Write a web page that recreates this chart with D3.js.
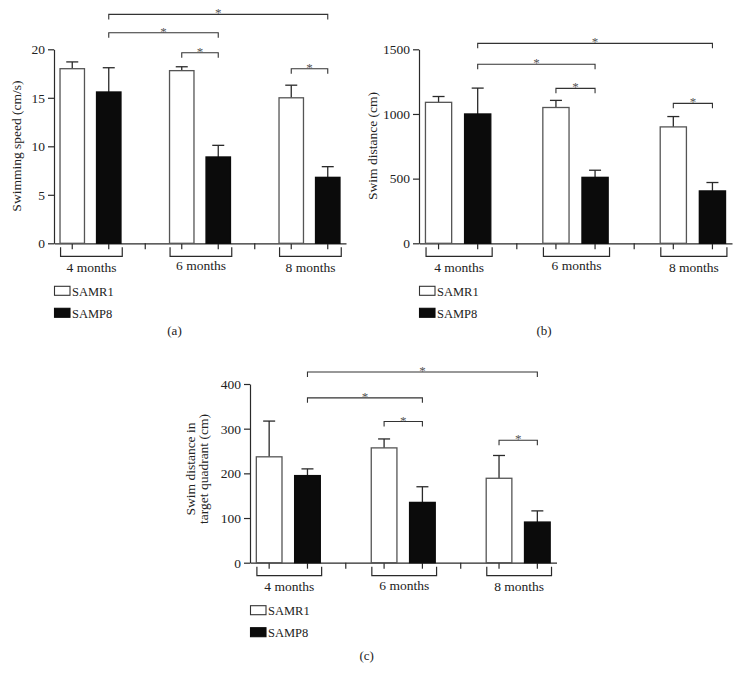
<!DOCTYPE html>
<html><head><meta charset="utf-8">
<script src="https://cdn.jsdelivr.net/npm/d3@7"></script>
<style>body{margin:0;background:#fff} svg{display:block}</style>
</head><body>
<svg id="chart" width="740" height="684"></svg>
<script>
// ---------- data ----------
const groups = ["4 months", "6 months", "8 months"];
const series = ["SAMR1", "SAMP8"];

// (a) Swimming speed (cm/s)
const speedSAMR1 = [18.0, 17.8, 15.0];
const speedSAMR1Err = [0.7, 0.4, 1.3];
const speedSAMP8 = [15.6, 8.9, 6.8];
const speedSAMP8Err = [2.5, 1.2, 1.1];
const speedTicks = [0, 5, 10, 15, 20];

// (b) Swim distance (cm)
const distSAMR1 = [1090, 1050, 900];
const distSAMR1Err = [45, 55, 80];
const distSAMP8 = [1000, 510, 405];
const distSAMP8Err = [200, 55, 65];
const distTicks = [0, 500, 1000, 1500];

// (c) Swim distance in target quadrant (cm)
const quadSAMR1 = [237, 257, 189];
const quadSAMR1Err = [80, 20, 51];
const quadSAMP8 = [195, 135, 91];
const quadSAMP8Err = [15, 35, 25];
const quadTicks = [0, 100, 200, 300, 400];

// significance brackets: from [group, series] to [group, series] at a level (data units)
const sigSpeed = [
  {from: [0, 1], to: [2, 1], level: 23.6},
  {from: [0, 1], to: [1, 1], level: 21.7},
  {from: [1, 0], to: [1, 1], level: 19.65},
  {from: [2, 0], to: [2, 1], level: 18.0}
];
const sigDist = [
  {from: [0, 1], to: [2, 1], level: 1546},
  {from: [0, 1], to: [1, 1], level: 1384},
  {from: [1, 0], to: [1, 1], level: 1198},
  {from: [2, 0], to: [2, 1], level: 1082}
];
const sigQuad = [
  {from: [0, 1], to: [2, 1], level: 427},
  {from: [0, 1], to: [1, 1], level: 369},
  {from: [1, 0], to: [1, 1], level: 316},
  {from: [2, 0], to: [2, 1], level: 274}
];

// ---------- drawing ----------
const FONT = "'Liberation Serif', 'Times New Roman', serif";
const INK = "#2a2a2a";
const svg = d3.select("#chart");

const slotKey = (gi, si) => groups[gi] + "|" + series[si];
const slots = [];
groups.forEach((g, gi) => {
  slots.push(slotKey(gi, 0), slotKey(gi, 1));
  if (gi < groups.length - 1) slots.push("gap" + gi);
});

function panel(o) {
  const g = svg.append("g");
  const x = d3.scaleBand().domain(slots).range([o.x0, o.x1])
    .paddingInner(0.33).paddingOuter(0.165);
  const y = d3.scaleLinear().domain([0, o.max]).range([o.yBot, o.yTop]);
  const cx = (gi, si) => x(slotKey(gi, si)) + x.bandwidth() / 2;
  const step = x.step();

  // y axis
  const ya = g.append("g").attr("transform", `translate(${o.x0},0)`)
    .call(d3.axisLeft(y).tickValues(o.ticks).tickSize(6).tickSizeOuter(0).tickPadding(3).tickFormat(d3.format("d")));
  ya.select(".domain").attr("stroke", INK).attr("stroke-width", 1.2);
  ya.selectAll(".tick line").attr("stroke", INK).attr("stroke-width", 1.2);
  ya.selectAll(".tick text").attr("font-family", FONT).attr("font-size", 13.5).attr("fill", "#222");

  // x axis
  const xa = g.append("g").attr("transform", `translate(0,${o.yBot})`)
    .call(d3.axisBottom(x).tickSize(6).tickSizeOuter(0).tickFormat(""));
  xa.select(".domain").attr("stroke", INK).attr("stroke-width", 1.2);
  xa.selectAll(".tick line").attr("stroke", INK).attr("stroke-width", 1.2);

  // bars
  const vals = [o.r1, o.p8], errs = [o.r1e, o.p8e];
  const data = [];
  groups.forEach((gr, gi) => series.forEach((s, si) => data.push({gi, si, v: vals[si][gi], e: errs[si][gi]})));

  // error bars (behind bars)
  const eb = g.append("g").attr("stroke", INK).attr("stroke-width", 1.3).attr("fill", "none");
  data.forEach(d => {
    const c = cx(d.gi, d.si);
    eb.append("line").attr("x1", c).attr("x2", c).attr("y1", y(d.v)).attr("y2", y(d.v + d.e));
    eb.append("line").attr("x1", c - 6).attr("x2", c + 6).attr("y1", y(d.v + d.e)).attr("y2", y(d.v + d.e));
  });

  g.append("g").selectAll("rect").data(data).join("rect")
    .attr("x", d => x(slotKey(d.gi, d.si)))
    .attr("y", d => y(d.v))
    .attr("width", x.bandwidth())
    .attr("height", d => y(0) - y(d.v))
    .attr("fill", d => d.si === 0 ? "#fff" : "#0b0b0b")
    .attr("stroke", d => d.si === 0 ? "#555" : "#0b0b0b")
    .attr("stroke-width", 1.3);

  // group brackets below axis + labels
  groups.forEach((gr, gi) => {
    const l = cx(gi, 0) - 0.32 * step, r = cx(gi, 1) + 0.37 * step;
    g.append("path")
      .attr("d", `M${l},${o.yBot + 4}V${o.yBot + 13}H${r}V${o.yBot + 4}`)
      .attr("fill", "none").attr("stroke", INK).attr("stroke-width", 1.2);
    g.append("text").attr("x", (cx(gi, 0) + cx(gi, 1)) / 2 + 1).attr("y", o.yBot + (gi === 1 ? 27 : 28.5))
      .attr("text-anchor", "middle").attr("font-family", FONT).attr("font-size", 13.5).attr("fill", "#222")
      .text(gr);
  });

  // significance brackets
  o.sig.forEach(s => {
    const a = cx(s.from[0], s.from[1]), b = cx(s.to[0], s.to[1]);
    const ly = y(s.level);
    g.append("path").attr("d", `M${a},${ly + 5}V${ly}H${b}V${ly + 5}`)
      .attr("fill", "none").attr("stroke", "#333").attr("stroke-width", 1.1);
    g.append("text").attr("x", (a + b) / 2).attr("y", ly + 3)
      .attr("text-anchor", "middle").attr("font-family", FONT).attr("font-size", 13).attr("fill", "#555")
      .text("*");
  });

  // legend
  series.forEach((s, si) => {
    const ly = o.yBot + 43 + si * 22;
    g.append("rect").attr("x", o.x0 + 0.5).attr("y", ly).attr("width", 15.5).attr("height", 9)
      .attr("fill", si === 0 ? "#fff" : "#0b0b0b").attr("stroke", si === 0 ? "#333" : "#0b0b0b").attr("stroke-width", 1.1);
    g.append("text").attr("x", o.x0 + 18).attr("y", ly + 9.5)
      .attr("font-family", FONT).attr("font-size", 12.5).attr("fill", "#222").text(s);
  });

  // y title
  o.title.forEach((t, i) => {
    g.append("text").attr("transform", `translate(${o.titleX[i]},${o.titleY}) rotate(-90)`)
      .attr("text-anchor", "middle").attr("font-family", FONT).attr("font-size", 13.5).attr("fill", "#222").text(t);
  });

  // panel label
  g.append("text").attr("x", o.labelX).attr("y", o.labelY).attr("text-anchor", "middle")
    .attr("font-family", FONT).attr("font-size", 13).attr("fill", "#222").text(o.label);
}

panel({x0: 54, x1: 346, yTop: 49.3, yBot: 243.3, max: 20, ticks: speedTicks,
  r1: speedSAMR1, r1e: speedSAMR1Err, p8: speedSAMP8, p8e: speedSAMP8Err, sig: sigSpeed,
  title: ["Swimming speed (cm/s)"], titleX: [20.5], titleY: 146, label: "(a)", labelX: 174.5, labelY: 335});

panel({x0: 419, x1: 732, yTop: 49.3, yBot: 243.3, max: 1500, ticks: distTicks,
  r1: distSAMR1, r1e: distSAMR1Err, p8: distSAMP8, p8e: distSAMP8Err, sig: sigDist,
  title: ["Swim distance (cm)"], titleX: [377], titleY: 146, label: "(b)", labelX: 544, labelY: 335});

panel({x0: 250, x1: 556.5, yTop: 384, yBot: 562.7, max: 400, ticks: quadTicks,
  r1: quadSAMR1, r1e: quadSAMR1Err, p8: quadSAMP8, p8e: quadSAMP8Err, sig: sigQuad,
  title: ["Swim distance in", "target quadrant (cm)"], titleX: [195, 208], titleY: 469, label: "(c)", labelX: 366.7, labelY: 660});
</script>
</body></html>
